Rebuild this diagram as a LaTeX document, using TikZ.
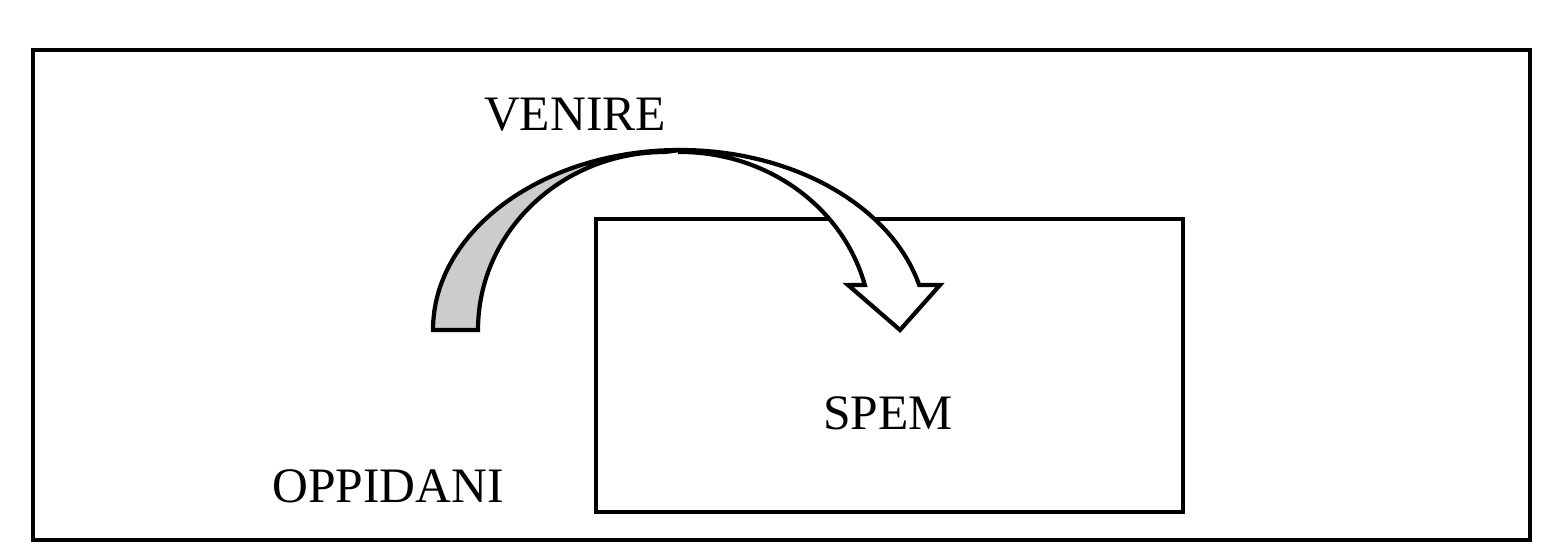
\documentclass[tikz,border=0pt]{standalone}
\usepackage{fontspec}
\setmainfont{Liberation Serif}
\begin{document}
\begin{tikzpicture}[x=0.5pt,y=0.5pt,
  box/.style={draw=black,line width=2.2pt},
  band/.style={draw=black,line width=2.1pt,line join=miter},
  lbl/.style={font=\fontsize{24.8}{29}\selectfont,inner sep=0pt}]
\useasboundingbox (0,0) rectangle (1566,560);
\draw[box] (33,20) rectangle (1530,510);
\node[box,minimum width=293.5pt,minimum height=146.5pt,inner sep=0pt,outer sep=0pt,anchor=south west] (spembox) at (596,48) {};
% gray back side of the twisted band
\filldraw[band,fill=black!20] (433,230) arc[start angle=180,end angle=90,x radius=247,y radius=180]
  -- (665,408) arc[start angle=90,end angle=180,x radius=187,y radius=178] -- cycle;
% white front side with arrow head
\filldraw[band,fill=white] (680,410) arc[start angle=90,end angle=14.48,x radius=247,y radius=180]
  -- (940,275) -- (900,230) -- (848,275) -- (864.8,275)
  arc[start angle=14.64,end angle=90,x radius=191,y radius=178] -- cycle;
\node[lbl] (venire) at (575,445) {VENIRE};
\node[lbl] (spem) at (888,147) {SPEM};
\node[lbl] (oppidani) at (388,74) {OPPIDANI};
\end{tikzpicture}
\end{document}
